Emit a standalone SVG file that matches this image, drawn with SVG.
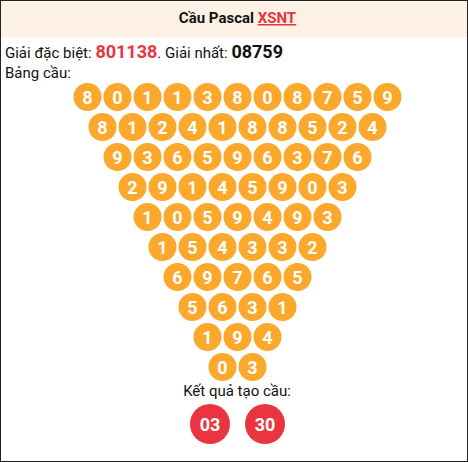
<svg xmlns="http://www.w3.org/2000/svg" width="468" height="462" viewBox="0 0 468 462">
<style>
text{font-family:Roboto,"Noto Sans",sans-serif}
.b{fill:#FBA82C}
.n{fill:#fff;font-weight:bold;font-size:18px;text-anchor:middle}
.r{fill:#EA3440}
.t{font-size:15px;fill:#111}
</style>
<rect x="0.5" y="0.5" width="467" height="461" fill="#fff" stroke="#222"/>
<rect x="1" y="1" width="466" height="36" fill="#FEF1E6"/>
<text x="237.5" y="23" text-anchor="middle" font-size="15" font-weight="bold" fill="#111">Cầu Pascal <tspan fill="#EA3440" text-decoration="underline">XSNT</tspan></text>
<text x="5" y="58" class="t">Giải đặc biệt: <tspan font-weight="bold" font-size="18" fill="#EA3440">801138</tspan>. Giải nhất: <tspan font-weight="bold" font-size="18" fill="#111">08759</tspan></text>
<text x="5" y="78" class="t">Bảng cầu:</text>
<g id="grid">
<g id="row1">
<circle class="b" cx="87.5" cy="97" r="14"/><text class="n" x="87.5" y="103.5">8</text>
<circle class="b" cx="117.5" cy="97" r="14"/><text class="n" x="117.5" y="103.5">0</text>
<circle class="b" cx="147.5" cy="97" r="14"/><text class="n" x="147.5" y="103.5">1</text>
<circle class="b" cx="177.5" cy="97" r="14"/><text class="n" x="177.5" y="103.5">1</text>
<circle class="b" cx="207.5" cy="97" r="14"/><text class="n" x="207.5" y="103.5">3</text>
<circle class="b" cx="237.5" cy="97" r="14"/><text class="n" x="237.5" y="103.5">8</text>
<circle class="b" cx="267.5" cy="97" r="14"/><text class="n" x="267.5" y="103.5">0</text>
<circle class="b" cx="297.5" cy="97" r="14"/><text class="n" x="297.5" y="103.5">8</text>
<circle class="b" cx="327.5" cy="97" r="14"/><text class="n" x="327.5" y="103.5">7</text>
<circle class="b" cx="357.5" cy="97" r="14"/><text class="n" x="357.5" y="103.5">5</text>
<circle class="b" cx="387.5" cy="97" r="14"/><text class="n" x="387.5" y="103.5">9</text>
</g>
<g id="row2">
<circle class="b" cx="102.5" cy="127" r="14"/><text class="n" x="102.5" y="133.5">8</text>
<circle class="b" cx="132.5" cy="127" r="14"/><text class="n" x="132.5" y="133.5">1</text>
<circle class="b" cx="162.5" cy="127" r="14"/><text class="n" x="162.5" y="133.5">2</text>
<circle class="b" cx="192.5" cy="127" r="14"/><text class="n" x="192.5" y="133.5">4</text>
<circle class="b" cx="222.5" cy="127" r="14"/><text class="n" x="222.5" y="133.5">1</text>
<circle class="b" cx="252.5" cy="127" r="14"/><text class="n" x="252.5" y="133.5">8</text>
<circle class="b" cx="282.5" cy="127" r="14"/><text class="n" x="282.5" y="133.5">8</text>
<circle class="b" cx="312.5" cy="127" r="14"/><text class="n" x="312.5" y="133.5">5</text>
<circle class="b" cx="342.5" cy="127" r="14"/><text class="n" x="342.5" y="133.5">2</text>
<circle class="b" cx="372.5" cy="127" r="14"/><text class="n" x="372.5" y="133.5">4</text>
</g>
<g id="row3">
<circle class="b" cx="117.5" cy="157" r="14"/><text class="n" x="117.5" y="163.5">9</text>
<circle class="b" cx="147.5" cy="157" r="14"/><text class="n" x="147.5" y="163.5">3</text>
<circle class="b" cx="177.5" cy="157" r="14"/><text class="n" x="177.5" y="163.5">6</text>
<circle class="b" cx="207.5" cy="157" r="14"/><text class="n" x="207.5" y="163.5">5</text>
<circle class="b" cx="237.5" cy="157" r="14"/><text class="n" x="237.5" y="163.5">9</text>
<circle class="b" cx="267.5" cy="157" r="14"/><text class="n" x="267.5" y="163.5">6</text>
<circle class="b" cx="297.5" cy="157" r="14"/><text class="n" x="297.5" y="163.5">3</text>
<circle class="b" cx="327.5" cy="157" r="14"/><text class="n" x="327.5" y="163.5">7</text>
<circle class="b" cx="357.5" cy="157" r="14"/><text class="n" x="357.5" y="163.5">6</text>
</g>
<g id="row4">
<circle class="b" cx="132.5" cy="187" r="14"/><text class="n" x="132.5" y="193.5">2</text>
<circle class="b" cx="162.5" cy="187" r="14"/><text class="n" x="162.5" y="193.5">9</text>
<circle class="b" cx="192.5" cy="187" r="14"/><text class="n" x="192.5" y="193.5">1</text>
<circle class="b" cx="222.5" cy="187" r="14"/><text class="n" x="222.5" y="193.5">4</text>
<circle class="b" cx="252.5" cy="187" r="14"/><text class="n" x="252.5" y="193.5">5</text>
<circle class="b" cx="282.5" cy="187" r="14"/><text class="n" x="282.5" y="193.5">9</text>
<circle class="b" cx="312.5" cy="187" r="14"/><text class="n" x="312.5" y="193.5">0</text>
<circle class="b" cx="342.5" cy="187" r="14"/><text class="n" x="342.5" y="193.5">3</text>
</g>
<g id="row5">
<circle class="b" cx="147.5" cy="217" r="14"/><text class="n" x="147.5" y="223.5">1</text>
<circle class="b" cx="177.5" cy="217" r="14"/><text class="n" x="177.5" y="223.5">0</text>
<circle class="b" cx="207.5" cy="217" r="14"/><text class="n" x="207.5" y="223.5">5</text>
<circle class="b" cx="237.5" cy="217" r="14"/><text class="n" x="237.5" y="223.5">9</text>
<circle class="b" cx="267.5" cy="217" r="14"/><text class="n" x="267.5" y="223.5">4</text>
<circle class="b" cx="297.5" cy="217" r="14"/><text class="n" x="297.5" y="223.5">9</text>
<circle class="b" cx="327.5" cy="217" r="14"/><text class="n" x="327.5" y="223.5">3</text>
</g>
<g id="row6">
<circle class="b" cx="162.5" cy="247" r="14"/><text class="n" x="162.5" y="253.5">1</text>
<circle class="b" cx="192.5" cy="247" r="14"/><text class="n" x="192.5" y="253.5">5</text>
<circle class="b" cx="222.5" cy="247" r="14"/><text class="n" x="222.5" y="253.5">4</text>
<circle class="b" cx="252.5" cy="247" r="14"/><text class="n" x="252.5" y="253.5">3</text>
<circle class="b" cx="282.5" cy="247" r="14"/><text class="n" x="282.5" y="253.5">3</text>
<circle class="b" cx="312.5" cy="247" r="14"/><text class="n" x="312.5" y="253.5">2</text>
</g>
<g id="row7">
<circle class="b" cx="177.5" cy="277" r="14"/><text class="n" x="177.5" y="283.5">6</text>
<circle class="b" cx="207.5" cy="277" r="14"/><text class="n" x="207.5" y="283.5">9</text>
<circle class="b" cx="237.5" cy="277" r="14"/><text class="n" x="237.5" y="283.5">7</text>
<circle class="b" cx="267.5" cy="277" r="14"/><text class="n" x="267.5" y="283.5">6</text>
<circle class="b" cx="297.5" cy="277" r="14"/><text class="n" x="297.5" y="283.5">5</text>
</g>
<g id="row8">
<circle class="b" cx="192.5" cy="307" r="14"/><text class="n" x="192.5" y="313.5">5</text>
<circle class="b" cx="222.5" cy="307" r="14"/><text class="n" x="222.5" y="313.5">6</text>
<circle class="b" cx="252.5" cy="307" r="14"/><text class="n" x="252.5" y="313.5">3</text>
<circle class="b" cx="282.5" cy="307" r="14"/><text class="n" x="282.5" y="313.5">1</text>
</g>
<g id="row9">
<circle class="b" cx="207.5" cy="337" r="14"/><text class="n" x="207.5" y="343.5">1</text>
<circle class="b" cx="237.5" cy="337" r="14"/><text class="n" x="237.5" y="343.5">9</text>
<circle class="b" cx="267.5" cy="337" r="14"/><text class="n" x="267.5" y="343.5">4</text>
</g>
<g id="row10">
<circle class="b" cx="222.5" cy="367" r="14"/><text class="n" x="222.5" y="373.5">0</text>
<circle class="b" cx="252.5" cy="367" r="14"/><text class="n" x="252.5" y="373.5">3</text>
</g>
</g>
<text x="237" y="396" class="t" text-anchor="middle">Kết quả tạo cầu:</text>
<g id="result1"><circle class="r" cx="210" cy="424" r="20"/><text class="n" x="210" y="430.5">03</text></g>
<g id="result2"><circle class="r" cx="265" cy="424" r="20"/><text class="n" x="265" y="430.5">30</text></g>
</svg>
